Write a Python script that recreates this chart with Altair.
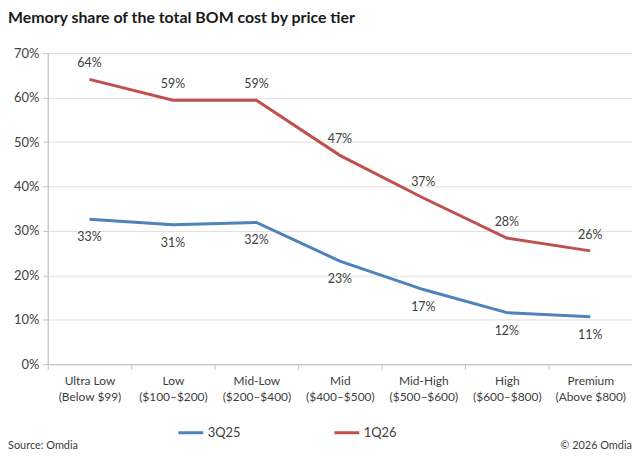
import altair as alt
import pandas as pd

tiers = ["Ultra Low", "Low", "Mid-Low", "Mid", "Mid-High", "High", "Premium"]
ranges = ["(Below $99)", "($100–$200)", "($200–$400)", "($400–$500)",
          "($500–$600)", "($600–$800)", "(Above $800)"]
series = ["3Q25", "1Q26"]
v_3q25 = [32.6, 31.4, 31.9, 23.2, 16.8, 11.6, 10.7]
v_1q26 = [64.1, 59.4, 59.4, 47.0, 37.4, 28.4, 25.5]
lab_3q25 = ["33%", "31%", "32%", "23%", "17%", "12%", "11%"]
lab_1q26 = ["64%", "59%", "59%", "47%", "37%", "28%", "26%"]
colors = ["#4F81BD", "#C0504D"]
y_ticks = [0, 10, 20, 30, 40, 50, 60, 70]

cats = [f"{t}|{r}" for t, r in zip(tiers, ranges)]
rows = []
for c, v, l in zip(cats, v_3q25, lab_3q25):
    rows.append({"tier": c, "series": "3Q25", "value": v, "label": l})
for c, v, l in zip(cats, v_1q26, lab_1q26):
    rows.append({"tier": c, "series": "1Q26", "value": v, "label": l})
df = pd.DataFrame(rows)

FONT = "Lato"
x_enc = alt.X("tier:N", sort=cats, title=None,
              scale=alt.Scale(paddingInner=0, paddingOuter=0),
              axis=alt.Axis(labelExpr="split(datum.label, '|')", labelAngle=0,
                            tickBand="extent", tickSize=5, tickColor="#bfbfbf",
                            domainColor="#bfbfbf", labelPadding=6,
                            labelFontSize=12, labelColor="#404040",
                            labelLineHeight=17, grid=False, labelFont=FONT))
y_enc = alt.Y("value:Q", title=None,
              scale=alt.Scale(domain=[0, 70], nice=False),
              axis=alt.Axis(values=y_ticks, labelExpr="datum.value + '%'",
                            grid=True, gridColor="#e0e0e0", tickSize=5,
                            tickColor="#bfbfbf", domainColor="#bfbfbf",
                            labelFontSize=13, labelColor="#404040",
                            labelPadding=4, labelFont=FONT))

base = alt.Chart(df)
lines = base.mark_line(strokeWidth=3).encode(
    x=x_enc, y=y_enc,
    color=alt.Color("series:N", sort=series, title=None,
                    scale=alt.Scale(domain=series, range=colors),
                    legend=alt.Legend(orient="none", legendX=130, legendY=368,
                                      direction="horizontal", symbolType="stroke",
                                      symbolSize=625, symbolStrokeWidth=3,
                                      labelFontSize=13, labelColor="#404040",
                                      labelFont=FONT, columnPadding=87,
                                      labelOffset=3)),
)
top_labels = base.transform_filter(alt.datum.series == "1Q26").mark_text(
    dy=-16, fontSize=12.5, color="#404040", font=FONT, baseline="middle"
).encode(x=alt.X("tier:N", sort=cats), y="value:Q", text="label:N")
bot_labels = base.transform_filter(alt.datum.series == "3Q25").mark_text(
    dy=18, fontSize=12.5, color="#404040", font=FONT, baseline="middle"
).encode(x=alt.X("tier:N", sort=cats), y="value:Q", text="label:N")

foot = pd.DataFrame({"t": ["Source: Omdia"]})
foot2 = pd.DataFrame({"t": ["© 2026 Omdia"]})
src = alt.Chart(foot).mark_text(align="left", fontSize=11, color="#404040",
                                font=FONT, baseline="alphabetic").encode(
    x=alt.value(-40), y=alt.value(398), text="t:N")
cpy = alt.Chart(foot2).mark_text(align="right", fontSize=11, color="#404040",
                                 font=FONT, baseline="alphabetic").encode(
    x=alt.value(588), y=alt.value(398), text="t:N")

chart = alt.layer(lines, top_labels, bot_labels, src, cpy).properties(
    width=588, height=313,
    title=alt.TitleParams("Memory share of the total BOM cost by price tier",
                          anchor="start", frame="group", dx=-40, offset=21,
                          fontSize=16, font=FONT, fontWeight="bold",
                          color="#1a1a1a"),
    autosize=alt.AutoSizeParams(type="none"),
    padding={"left": 40, "top": 44, "right": 0, "bottom": 100},
).configure_view(stroke=None).configure(background="white")

chart.save("out.html", embed_options={"renderer": "svg", "actions": False})
